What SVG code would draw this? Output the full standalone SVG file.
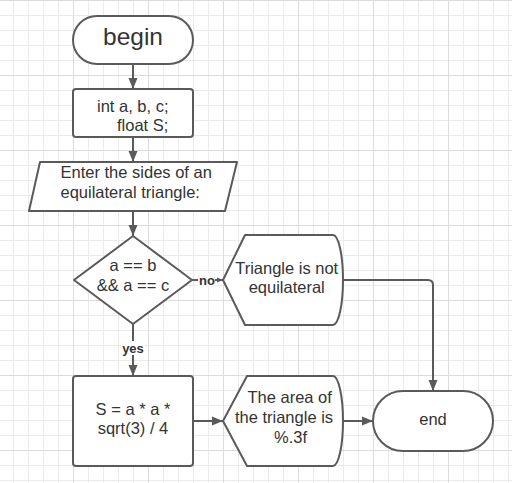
<svg xmlns="http://www.w3.org/2000/svg" width="512" height="483" viewBox="0 0 512 483">
<defs>
<pattern id="minor" patternUnits="userSpaceOnUse" x="13" y="0" width="15" height="15">
<path d="M0 0.5H15M0.5 0V15" stroke="#ebebeb" stroke-width="1" fill="none"/>
</pattern>
<pattern id="major" patternUnits="userSpaceOnUse" x="73" y="0" width="75" height="75">
<path d="M0 0.5H75M0.5 0V75" stroke="#dcdcdc" stroke-width="1" fill="none"/>
</pattern>
<marker id="arr" markerUnits="userSpaceOnUse" markerWidth="11" markerHeight="10" refX="11" refY="5" orient="auto">
<path d="M0,0.5 L11,5 L0,9.5 Z" fill="#5a5a5a"/>
</marker>
<marker id="arrs" markerUnits="userSpaceOnUse" markerWidth="6" markerHeight="6" refX="6" refY="3" orient="auto">
<path d="M0,0.5 L6,3 L0,5.5 Z" fill="#5a5a5a"/>
</marker>
<style>
.shape{fill:#ffffff;stroke:#5a5a5a;stroke-width:2;stroke-linejoin:round}
.conn{fill:none;stroke:#5a5a5a;stroke-width:2}
.t{font-family:"Liberation Sans",Arial,sans-serif;font-size:16.5px;fill:#333333}
.m{text-anchor:middle}
.lbl{font-family:"Liberation Sans",Arial,sans-serif;font-size:13px;font-weight:bold;fill:#333333;text-anchor:middle}
</style>
</defs>
<rect x="0" y="0" width="512" height="483" fill="#ffffff"/>
<rect x="0" y="0" width="512" height="483" fill="url(#minor)"/>
<rect x="0" y="0" width="512" height="483" fill="url(#major)"/>

<g id="connectors">
<path class="conn" d="M133,64V89" marker-end="url(#arr)"/>
<path class="conn" d="M133,137V162" marker-end="url(#arr)"/>
<path class="conn" d="M133,211V236" marker-end="url(#arr)"/>
<path class="conn" d="M192,280H223" marker-end="url(#arrs)"/>
<rect x="198" y="273" width="17" height="13" fill="#ffffff"/>
<text class="lbl" x="207" y="284.5">no</text>
<path class="conn" d="M343,280H428Q433,280 433,285V391" marker-end="url(#arr)"/>
<path class="conn" d="M133,324V376" marker-end="url(#arr)"/>
<rect x="121" y="341" width="24" height="14" fill="#ffffff"/>
<text class="lbl" x="133" y="352.5">yes</text>
<path class="conn" d="M193,421H223" marker-end="url(#arr)"/>
<path class="conn" d="M343,421H373" marker-end="url(#arr)"/>
</g>

<g id="begin">
<rect class="shape" x="73" y="16" width="120" height="48" rx="24"/>
<text class="t m" x="133" y="45" style="font-size:24.5px">begin</text>
</g>

<g id="decl">
<rect class="shape" x="73" y="89" width="120" height="48" rx="3"/>
<text class="t" x="97" y="111.5">int a, b, c;</text>
<text class="t" x="117" y="130.5">float S;</text>
</g>

<g id="input">
<path class="shape" d="M40,162H237L225,211H29Z"/>
<text class="t" x="60.5" y="178">Enter the sides of an</text>
<text class="t" x="60.5" y="198">equilateral triangle:</text>
</g>

<g id="decision">
<path class="shape" d="M133,236L192,280L133,324L74,280Z"/>
<text class="t m" x="133" y="270.5">a == b</text>
<text class="t m" x="133" y="290.5">&amp;&amp; a == c</text>
</g>

<g id="not-equilateral">
<path class="shape" d="M223,280L245,235H333A10,45 0 0 1 333,325H245Z"/>
<text class="t m" x="286.7" y="273.5">Triangle is not</text>
<text class="t m" x="286.7" y="293">equilateral</text>
</g>

<g id="compute">
<rect class="shape" x="73" y="376" width="120" height="90" rx="3"/>
<text class="t m" x="133" y="414.5">S = a * a *</text>
<text class="t m" x="133" y="434">sqrt(3) / 4</text>
</g>

<g id="output">
<path class="shape" d="M223,421L247,376H333A10,45 0 0 1 333,466H247Z"/>
<text class="t m" x="289.7" y="403">The area of</text>
<text class="t m" x="284" y="423">the triangle is</text>
<text class="t m" x="290.5" y="443">%.3f</text>
</g>

<g id="end">
<rect class="shape" x="373" y="391" width="120" height="60" rx="30"/>
<text class="t m" x="433" y="424.5">end</text>
</g>
</svg>
